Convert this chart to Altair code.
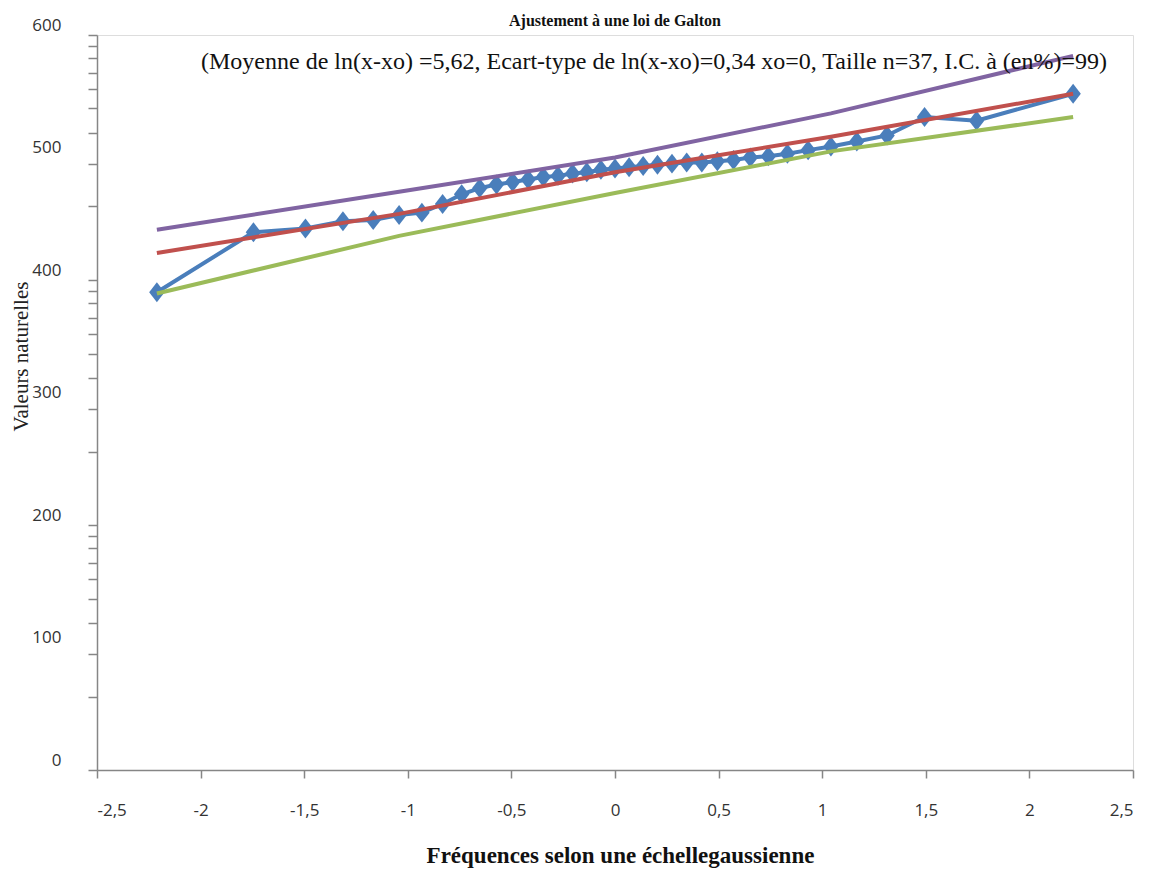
import altair as alt
import pandas as pd

# Gaussian-scale frequencies (x) and observed values of the sample
z_obs = [-2.211, -1.745, -1.494, -1.313, -1.167, -1.042, -0.932, -0.832, -0.740,
         -0.653, -0.572, -0.494, -0.419, -0.346, -0.275, -0.205, -0.136, -0.068,
         0.0, 0.068, 0.136, 0.205, 0.275, 0.346, 0.419, 0.494, 0.572, 0.653,
         0.740, 0.832, 0.932, 1.042, 1.167, 1.313, 1.494, 1.745, 2.211]
v_obs = [390, 439, 442, 448, 449, 453, 455, 462, 470,
         475, 478, 480, 482, 484, 485, 487, 488, 490,
         491, 492, 493, 494, 495, 496, 496, 497, 498, 500,
         501, 503, 506, 509, 513, 518, 533, 530, 552]

# Fitted Galton law and confidence bounds
z_fit = [-2.211, -1.042, 0.0, 1.042, 2.211]
v_fit = [422, 454, 488, 517, 552]
v_low = [389, 436, 471, 505, 533]
v_high = [441, 472, 500, 536, 583]

x_ticks = [-2.5, -2, -1.5, -1, -0.5, 0, 0.5, 1, 1.5, 2, 2.5]
y_labels = [0, 100, 200, 300, 400, 500, 600]
y_minor = [60, 95, 120, 140, 156, 169, 181, 191,
           260, 295, 320, 340, 356, 369, 381, 391,
           460, 495, 520, 540, 556, 569, 581, 591]

TITLE = "Ajustement  à une loi de Galton"
SUBTITLE = "(Moyenne de ln(x-xo) =5,62, Ecart-type  de ln(x-xo)=0,34 xo=0, Taille  n=37, I.C. à (en%)=99)"

obs = pd.DataFrame({"z": z_obs, "v": v_obs})
fit = pd.DataFrame({"z": z_fit, "fit": v_fit, "low": v_low, "high": v_high})

AXIS_COLOR = "#868686"
LABEL_FONT = "Open Sans"

x_enc = alt.X(
    "z:Q",
    scale=alt.Scale(domain=[-2.5, 2.5], nice=False, zero=False),
    axis=alt.Axis(
        values=x_ticks,
        title="Fréquences selon une échellegaussienne",
        titleFont="Liberation Serif", titleFontWeight="bold", titleFontSize=23,
        titleColor="#111111", titleX=523, titleY=85, titleAlign="center",
        titleBaseline="middle",
        labelExpr="(datum.value < 0 ? '-' : '') + replace(format(abs(datum.value), '~g'), '.', ',')",
        labelFont=LABEL_FONT, labelFontSize=17, labelColor="#333333",
        labelPadding=24, tickSize=8, tickColor=AXIS_COLOR, tickWidth=1.5,
        domainColor=AXIS_COLOR, domainWidth=1.5, grid=False,
    ),
)

y_all = sorted(y_labels + y_minor)
y_axis = alt.Axis(
    values=y_all,
    title="Valeurs naturelles",
    titleFont="Liberation Serif", titleFontWeight="normal", titleFontSize=21,
    titleColor="#222222", titleX=-76, titleY=321, titleAlign="center",
    titleBaseline="middle", titleAngle=270,
    labelExpr="datum.value % 100 == 0 ? format(datum.value, 'd') : ''",
    labelFont=LABEL_FONT, labelFontSize=17, labelColor="#333333",
    labelPadding=27, labelOffset=-10,
    tickSize=9, tickColor=AXIS_COLOR, tickWidth=1.5,
    tickOpacity={"condition": {"test": "datum.value % 100 == 0 && datum.value % 200 != 0", "value": 0}, "value": 1},
    domainColor=AXIS_COLOR, domainWidth=1.5, grid=False,
)

def yq(field):
    return alt.Y(field + ":Q", scale=alt.Scale(domain=[0, 600], nice=False), axis=y_axis)

diamond = "M0,-1.1L0.85,0L0,1.1L-0.85,0Z"

blue_line = alt.Chart(obs).mark_line(color="#4A7EBB", strokeWidth=4).encode(x=x_enc, y=yq("v"))
blue_pts = alt.Chart(obs).mark_point(shape=diamond, size=330, filled=True, opacity=1,
                                     color="#4A7EBB").encode(x=x_enc, y=yq("v"))
red = alt.Chart(fit).mark_line(color="#C0504D", strokeWidth=4).encode(x=x_enc, y=yq("fit"))
green = alt.Chart(fit).mark_line(color="#9BBB59", strokeWidth=4).encode(x=x_enc, y=yq("low"))
purple = alt.Chart(fit).mark_line(color="#8064A2", strokeWidth=4).encode(x=x_enc, y=yq("high"))

sub = alt.Chart(pd.DataFrame({"t": [SUBTITLE]})).mark_text(
    font="Liberation Serif", fontSize=24, color="#111111", align="center", baseline="middle"
).encode(text="t:N", x=alt.value(557), y=alt.value(27))

chart = alt.layer(blue_line, blue_pts, red, green, purple, sub).properties(
    width=1036, height=735,
    title=alt.TitleParams(TITLE, font="Liberation Serif", fontSize=16, fontWeight="bold",
                          color="#111111", anchor="middle", offset=-13),
    autosize=alt.AutoSizeParams(type="none"),
    padding={"left": 97, "top": 35, "right": 26, "bottom": 102},
).configure_view(stroke=None).configure(background="white")

chart.save("out.html", embed_options={"renderer": "svg", "actions": False})
